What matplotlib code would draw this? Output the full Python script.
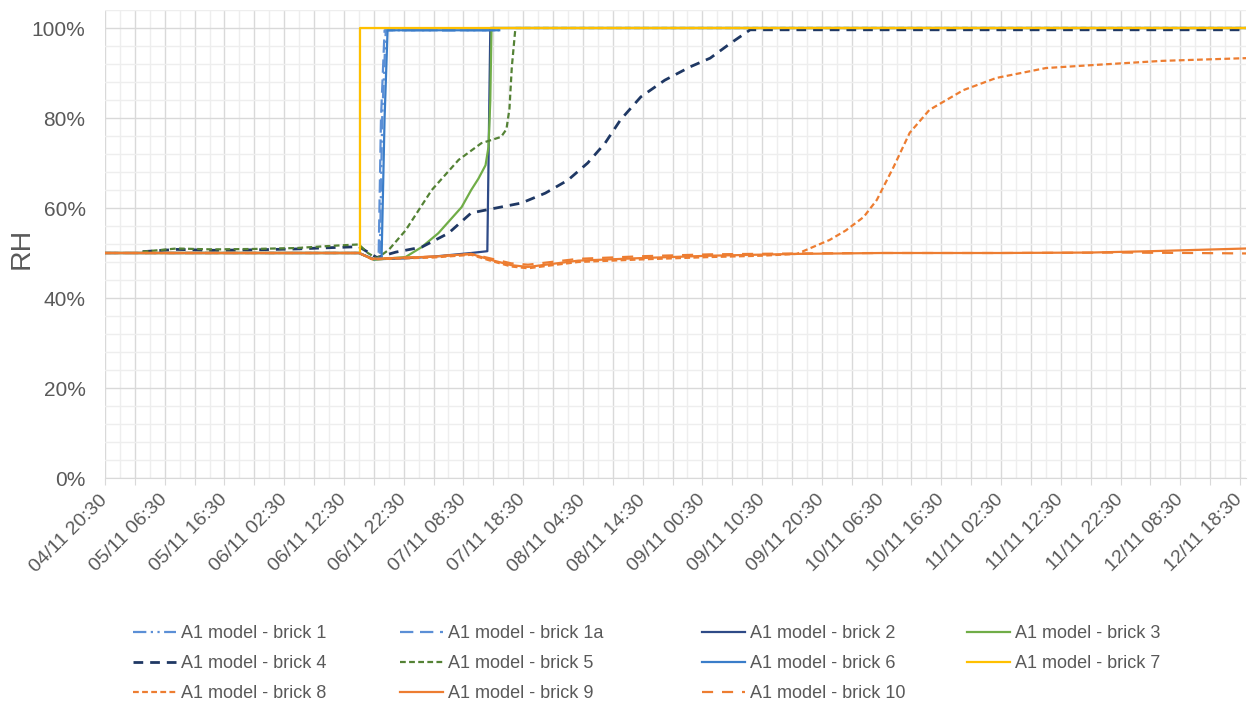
import numpy as np
import pandas as pd
import matplotlib
matplotlib.use('Agg')
import matplotlib.pyplot as plt
import matplotlib.dates as mdates
from matplotlib.ticker import FixedLocator, FuncFormatter, MultipleLocator

# start of the record, hours are counted from here
start = pd.Timestamp('2020-11-04 20:30')
last_tick_hours = 190
end_hours = 191

# each series: hours since start, RH in %
b1_t = [0, 42.5, 45.0, 46.0, 46.4, 47.0, 66]
b1_v = [50, 50, 48.6, 49.0, 80, 99.5, 99.5]

b1a_t = [0, 42.5, 45.0, 45.8, 46.2, 46.8, 66]
b1a_v = [50, 50, 48.6, 49.0, 80, 99.5, 99.5]

b2_t = [0, 42.5, 45.0, 50, 55, 61.3, 64.0, 64.5, 191]
b2_v = [50, 50, 48.6, 48.8, 49.2, 50.0, 50.4, 100, 100]

b3_t = [0, 42.5, 45.0, 50.3, 53, 55.8, 59.7, 61.3, 62.5, 63.7, 64.2, 64.5, 64.7, 191]
b3_v = [50, 50, 48.5, 49.1, 51.3, 54.4, 60.2, 64.0, 66.5, 69.5, 73.6, 84, 100, 100]

b4_t = [6.3, 12, 18, 25, 32, 38, 42.5, 45.5, 48.7, 53, 57.5, 61.3, 64.7, 69.7, 73.7,
        77.5, 80.8, 83.7, 86.3, 89.7, 93.7, 98, 101.3, 104.7, 108, 191]
b4_v = [50.3, 50.8, 50.6, 50.7, 50.9, 51.2, 51.4, 49.0, 50.2, 51.3, 54.4, 58.9, 59.8,
        61.1, 63.3, 66.2, 70.0, 74.4, 79.6, 84.7, 88.4, 91.4, 93.3, 96.6, 99.6, 99.6]

b5_t = [6.3, 12, 18, 25, 32, 38, 42.5, 44.0, 45.5, 47.5, 50.3, 54.7, 59.2, 63.0, 66.3,
        67.2, 67.7, 68.1, 68.7, 191]
b5_v = [50.3, 51.0, 50.8, 50.9, 51.1, 51.6, 51.9, 50.0, 48.8, 50.7, 55.0, 64.0, 70.7,
        74.4, 75.8, 77.5, 82, 91.3, 100, 100]

b6_t = [0, 42.5, 45.0, 46.3, 46.8, 47.3, 66]
b6_v = [50, 50, 48.6, 49.0, 80, 99.5, 99.5]

b7_t = [0, 42.7, 42.7, 191]
b7_v = [50, 50, 100, 100]

b8_t = [0, 42.5, 44.7, 55, 61.3, 64.5, 68, 70.8, 79.2, 90.3, 101.3, 110, 115.8,
        121.3, 124, 127, 129.2, 132, 134.7, 138, 143.7, 149.2, 157.5, 165.8, 177, 191]
b8_v = [50, 50, 48.6, 49.0, 49.6, 48.3, 47.0, 46.6, 48.0, 48.6, 49.1, 49.4, 49.8,
        52.9, 55.0, 58.0, 61.8, 69.1, 76.7, 81.8, 86.2, 88.9, 91.1, 91.8, 92.7, 93.3]

b9_t = [0, 42.5, 44.7, 55, 61.3, 64.5, 68, 70.8, 79.2, 90.3, 101.3, 115.8, 130,
        150, 165, 175, 183, 191]
b9_v = [50, 50, 48.7, 49.2, 49.8, 48.5, 47.3, 46.9, 48.3, 48.9, 49.4, 49.8, 50.0,
        50.0, 50.1, 50.4, 50.7, 51.0]

b10_t = [0, 42.5, 44.7, 55, 61.3, 64.5, 68, 70.8, 79.2, 90.3, 101.3, 115.8, 130,
         150, 170, 182, 191]
b10_v = [50, 50, 48.7, 49.2, 49.8, 48.8, 47.7, 47.4, 48.7, 49.3, 49.7, 49.9, 50.0,
         50.0, 50.1, 50.0, 49.9]

labels = ['A1 model - brick 1', 'A1 model - brick 1a', 'A1 model - brick 2',
          'A1 model - brick 3', 'A1 model - brick 4', 'A1 model - brick 5',
          'A1 model - brick 6', 'A1 model - brick 7', 'A1 model - brick 8',
          'A1 model - brick 9', 'A1 model - brick 10']

series = [(b1_t, b1_v), (b1a_t, b1a_v), (b2_t, b2_v), (b3_t, b3_v), (b4_t, b4_v),
          (b5_t, b5_v), (b6_t, b6_v), (b7_t, b7_v), (b8_t, b8_v), (b9_t, b9_v),
          (b10_t, b10_v)]

light_blue = '#5B8FD6'
navy = '#1F3864'
green = '#70AD47'
dgreen = '#548235'
orange = '#ED7D31'
styles = [
    dict(color=light_blue, dashes=(6, 2, 1, 2, 1, 2)),
    dict(color=light_blue, dashes=(6, 3)),
    dict(color='#2E4A87'),
    dict(color=green),
    dict(color=navy, dashes=(3.5, 2.5), lw=2.0),
    dict(color=dgreen, dashes=(2.6, 1.5)),
    dict(color='#3A7DC9'),
    dict(color='#FFC000'),
    dict(color=orange, dashes=(2.6, 1.5)),
    dict(color=orange),
    dict(color=orange, dashes=(5, 4)),
]

plt.rcParams['font.family'] = ['Liberation Sans', 'DejaVu Sans']
grey = '#595959'

fig = plt.figure(figsize=(12.48, 7.05), dpi=100)
ax = fig.add_axes([105 / 1248, 1 - 478 / 705, 1141 / 1248, 468 / 705])

handles = []
for (t, v), lab, st in zip(series, labels, styles):
    st = dict(st)
    lw = st.pop('lw', 1.6)
    x = start + pd.to_timedelta(t, unit='h')
    ln, = ax.plot(x, v, lw=lw, label=lab, **st)
    handles.append(ln)

x0 = mdates.date2num(start)
x1 = mdates.date2num(start + pd.Timedelta(hours=end_hours))
ax.set_xlim(x0, x1)
ax.set_ylim(0, 104)

major = mdates.date2num(pd.date_range(start, periods=last_tick_hours // 5 + 1, freq='5h'))
minor = mdates.date2num(pd.date_range(start, periods=last_tick_hours * 2 // 5 + 1, freq='150min'))
ax.xaxis.set_major_locator(FixedLocator(major))
ax.xaxis.set_minor_locator(FixedLocator(minor))


def xfmt(val, pos):
    d = mdates.num2date(val)
    h = round((val - x0) * 24)
    return d.strftime('%d/%m %H:%M') if h % 10 == 0 else ''


ax.xaxis.set_major_formatter(FuncFormatter(xfmt))
ax.yaxis.set_major_locator(MultipleLocator(20))
ax.yaxis.set_minor_locator(MultipleLocator(4))
ax.yaxis.set_major_formatter(FuncFormatter(lambda v, p: f'{v:.0f}%' if v <= 100 else ''))

ax.grid(True, which='major', color='#D9D9D9', lw=1.0)
ax.grid(True, which='minor', color='#EEEEEE', lw=1.0)
ax.set_axisbelow(True)
for s in ['top', 'right', 'left']:
    ax.spines[s].set_visible(False)
ax.spines['bottom'].set_color('#D9D9D9')

ax.tick_params(axis='y', which='both', length=0, pad=14, labelsize=15, labelcolor=grey)
ax.tick_params(axis='x', which='major', length=5, color='#D9D9D9', pad=9,
               labelsize=14, labelcolor=grey)
ax.tick_params(axis='x', which='minor', length=0)
for lab in ax.get_xticklabels():
    lab.set_rotation(45)
    lab.set_ha('right')
    lab.set_va('center')
    lab.set_rotation_mode('anchor')

fig.text(22 / 1248, 1 - 248 / 705, 'RH', rotation=90, ha='center', va='center',
         fontsize=20.5, color=grey)

# Excel-like legend laid out row by row, four columns
cols = [[0, 4, 8], [1, 5, 9], [2, 6, 10], [3, 7]]
col_x = [133, 400, 702, 967]
for cx, idx in zip(col_x, cols):
    leg = fig.legend([handles[i] for i in idx], [labels[i] for i in idx],
                     loc='upper left', bbox_to_anchor=(cx / 1248, 1 - 625 / 705),
                     frameon=False, fontsize=13, handlelength=2.4, handletextpad=0.25,
                     labelspacing=0.72, borderaxespad=0, borderpad=0)
    for tx in leg.get_texts():
        tx.set_color(grey)

fig.savefig('out.png', dpi=100)
